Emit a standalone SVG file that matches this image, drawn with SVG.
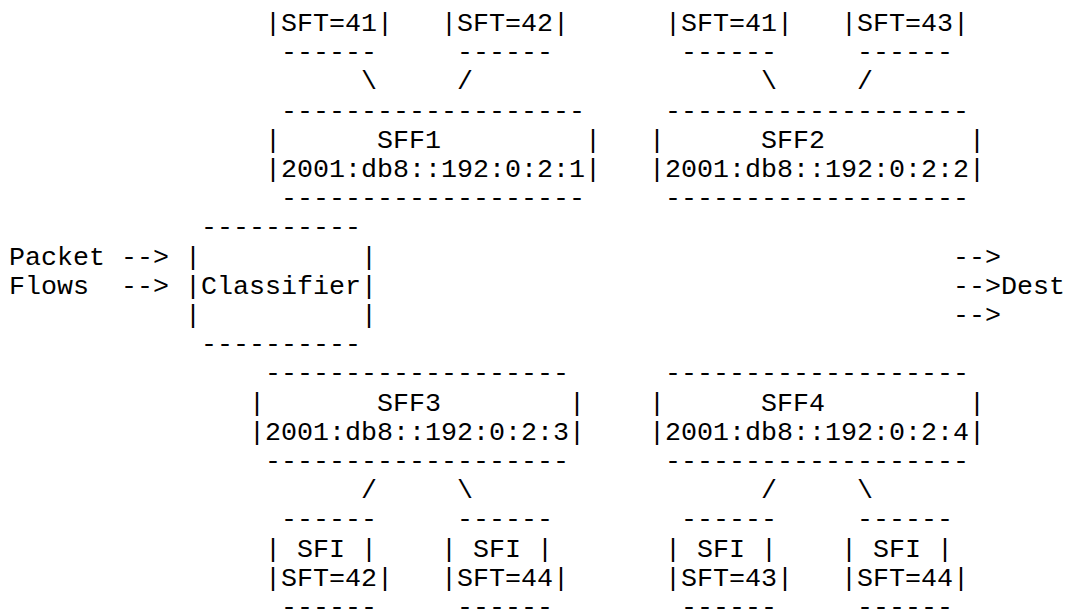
<svg xmlns="http://www.w3.org/2000/svg" width="1066" height="611" viewBox="0 0 1066 611">
<style>
text { font-family: "Liberation Mono", "Courier New", monospace; font-size: 26.667px; fill: #000; white-space: pre; }
</style>
<rect width="1066" height="611" fill="#fff"/>
<g id="sft-top-1"><text x="265" y="31">|SFT=41|</text><text x="281" y="60.2">------</text></g>
<g id="sft-top-2"><text x="441" y="31">|SFT=42|</text><text x="457" y="60.2">------</text></g>
<g id="sft-top-3"><text x="665" y="31">|SFT=41|</text><text x="681" y="60.2">------</text></g>
<g id="sft-top-4"><text x="841" y="31">|SFT=43|</text><text x="857" y="60.2">------</text></g>
<g id="sff1">
<text x="281" y="118.6">-------------------</text>
<text x="265" y="147.8">|</text><text x="377" y="147.8">SFF1</text><text x="585" y="147.8">|</text>
<text x="265" y="177">|2001:db8::192:0:2:1|</text>
<text x="281" y="206.2">-------------------</text>
</g>
<g id="sff2">
<text x="665" y="118.6">-------------------</text>
<text x="649" y="147.8">|</text><text x="761" y="147.8">SFF2</text><text x="969" y="147.8">|</text>
<text x="649" y="177">|2001:db8::192:0:2:2|</text>
<text x="665" y="206.2">-------------------</text>
</g>
<g id="classifier">
<text x="201" y="235.4">----------</text>
<text x="185" y="264.6">|</text><text x="361" y="264.6">|</text>
<text x="185" y="293.8">|Classifier|</text>
<text x="185" y="323">|</text><text x="361" y="323">|</text>
<text x="201" y="352.2">----------</text>
</g>
<g id="packet-flows"><text x="9" y="264.6">Packet</text><text x="9" y="293.8">Flows</text></g>
<g id="dest"><text x="1001" y="293.8">Dest</text></g>
<g id="sff3">
<text x="265" y="381.4">-------------------</text>
<text x="249" y="410.6">|</text><text x="377" y="410.6">SFF3</text><text x="569" y="410.6">|</text>
<text x="249" y="439.8">|2001:db8::192:0:2:3|</text>
<text x="265" y="469">-------------------</text>
</g>
<g id="sff4">
<text x="665" y="381.4">-------------------</text>
<text x="649" y="410.6">|</text><text x="761" y="410.6">SFF4</text><text x="969" y="410.6">|</text>
<text x="649" y="439.8">|2001:db8::192:0:2:4|</text>
<text x="665" y="469">-------------------</text>
</g>
<g id="sfi-1"><text x="281" y="527.4">------</text><text x="265" y="556.6">|</text><text x="297" y="556.6">SFI</text><text x="361" y="556.6">|</text><text x="265" y="585.8">|SFT=42|</text><text x="281" y="615">------</text></g>
<g id="sfi-2"><text x="457" y="527.4">------</text><text x="441" y="556.6">|</text><text x="473" y="556.6">SFI</text><text x="537" y="556.6">|</text><text x="441" y="585.8">|SFT=44|</text><text x="457" y="615">------</text></g>
<g id="sfi-3"><text x="681" y="527.4">------</text><text x="665" y="556.6">|</text><text x="697" y="556.6">SFI</text><text x="761" y="556.6">|</text><text x="665" y="585.8">|SFT=43|</text><text x="681" y="615">------</text></g>
<g id="sfi-4"><text x="857" y="527.4">------</text><text x="841" y="556.6">|</text><text x="873" y="556.6">SFI</text><text x="937" y="556.6">|</text><text x="841" y="585.8">|SFT=44|</text><text x="857" y="615">------</text></g>
<g id="connectors">
<text x="361" y="89.4">\</text><text x="457" y="89.4">/</text>
<text x="761" y="89.4">\</text><text x="857" y="89.4">/</text>
<text x="121" y="264.6">--&gt;</text><text x="121" y="293.8">--&gt;</text>
<text x="953" y="264.6">--&gt;</text><text x="953" y="293.8">--&gt;</text><text x="953" y="323">--&gt;</text>
<text x="361" y="498.2">/</text><text x="457" y="498.2">\</text>
<text x="761" y="498.2">/</text><text x="857" y="498.2">\</text>
</g>
</svg>
